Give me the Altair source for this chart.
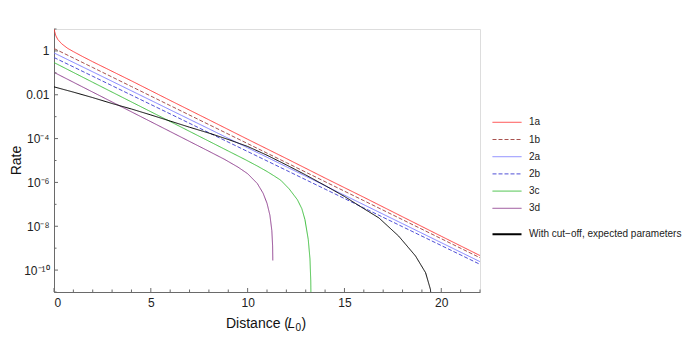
import math
import altair as alt
import pandas as pd

# ---------------- data ----------------
names = ["1a", "1b", "2a", "2b", "3c", "3d", "With cut\u2212off, expected parameters"]
colors = ["#ff3b3b", "#a8524f", "#7f7fff", "#4f4fd6", "#3fbf3f", "#8f3f8f", "#000000"]
dashes = [[1, 0], [4, 2], [1, 0], [4, 2], [1, 0], [1, 0], [1, 0]]
widths = [1, 1, 1, 1, 1, 1, 2]

x_1a = [0, 0.03, 0.1, 0.2, 0.4, 0.7, 1.0, 1.5, 2, 4, 6, 8, 10, 12, 14, 16, 18, 20, 22]
r_1a = [20, 7.9, 4.8, 3.3, 2.1, 1.32, 0.93, 0.54, 0.32, 0.043, 5.5e-3, 7.2e-4, 9.3e-5,
        1.23e-5, 1.58e-6, 2.1e-7, 2.7e-8, 3.5e-9, 4.6e-10]

x_1b = [0, 2, 4, 6, 8, 10, 12, 14, 16, 18, 20, 22]
r_1b = [1.29, 0.175, 0.0237, 3.2e-3, 4.35e-4, 5.9e-5, 8.0e-6, 1.08e-6, 1.47e-7, 1.99e-8,
        2.7e-9, 3.65e-10]

x_2a = [0, 2, 4, 6, 8, 10, 12, 14, 16, 18, 20, 22]
r_2a = [0.81, 0.111, 0.0151, 2.05e-3, 2.79e-4, 3.8e-5, 5.2e-6, 7.05e-7, 9.6e-8, 1.31e-8,
        1.78e-9, 2.42e-10]

x_2b = [0, 2, 4, 6, 8, 10, 12, 14, 16, 18, 20, 22]
r_2b = [0.50, 0.0695, 9.6e-3, 1.34e-3, 1.85e-4, 2.57e-5, 3.56e-6, 4.94e-7, 6.85e-8, 9.5e-9,
        1.32e-9, 1.83e-10]

x_3c = [0, 2, 4, 6, 8, 9, 9.9, 10.5, 11.0, 11.4, 11.71, 12.15, 12.57, 12.8, 12.96, 13.13,
        13.22, 13.26, 13.28]
r_3c = [0.295, 0.037, 4.7e-3, 6.0e-4, 7.6e-5, 2.7e-5, 1.07e-5, 5.6e-6, 3.16e-6, 1.9e-6,
        1.26e-6, 5.0e-7, 1.62e-7, 6.3e-8, 2.0e-8, 2.5e-9, 3.2e-10, 3.2e-11, 1e-12]

x_3d = [0, 2, 4, 6, 8, 8.79, 9.5, 10.0, 10.5, 10.8, 11.0, 11.15, 11.25, 11.29, 11.3]
r_3d = [0.105, 0.0132, 1.66e-3, 2.09e-4, 2.63e-5, 1.15e-5, 5.0e-6, 2.5e-6, 8.9e-7, 3.2e-7,
        1.12e-7, 3.2e-8, 6.3e-9, 1.26e-9, 2.75e-10]

x_bk = [0, 1, 2, 3, 4, 5, 6, 7, 8, 9, 10, 11, 12, 13, 14, 15, 15.75, 16.78, 17.8, 18.67,
        19.19, 19.44, 19.55]
r_bk = [0.0229, 0.0132, 7.4e-3, 3.98e-3, 2.24e-3, 1.2e-3, 6.3e-4, 3.3e-4, 1.78e-4, 9.1e-5,
        4.37e-5, 1.74e-5, 6.3e-6, 2.19e-6, 7.2e-7, 2.29e-7, 8.7e-8, 2.4e-8, 3.55e-9, 4.4e-10,
        7.6e-11, 1.32e-11, 1e-12]

x_major = [0, 5, 10, 15, 20]
x_minor = [1, 2, 3, 4, 6, 7, 8, 9, 11, 12, 13, 14, 16, 17, 18, 19, 21, 22]
y_major = [1, 1e-2, 1e-4, 1e-6, 1e-8, 1e-10]
y_major_labels = ["1", "0.01", "10\u207b\u2074", "10\u207b\u2076", "10\u207b\u2078", "10\u207b\u00b9\u2070"]
y_minor = [10, 0.1, 1e-3, 1e-5, 1e-7, 1e-9, 1e-11]

# ---------------- build tables ----------------
series_x = [x_1a, x_1b, x_2a, x_2b, x_3c, x_3d, x_bk]
series_r = [r_1a, r_1b, r_2a, r_2b, r_3c, r_3d, r_bk]
rows = []
for name, xs, rs in zip(names, series_x, series_r):
    for i, (a, b) in enumerate(zip(xs, rs)):
        rows.append({"series": name, "x": a, "rate": b, "i": i})
df = pd.DataFrame(rows)

W, H = 426, 263
FONT = "Liberation Sans"

xscale = alt.Scale(domain=[0, 22], nice=False, zero=False)
yscale = alt.Scale(type="log", domain=[1e-11, 10], nice=False)

expr = "''"
for v, lab in reversed(list(zip(y_major, y_major_labels))):
    e = round(math.log10(v))
    expr = f"(round(log(datum.value)/LN10) == {e}) ? '{lab}' : ({expr})"

xaxis = alt.Axis(values=x_major, format="d", ticks=False, grid=False, domainColor="#6a6a6a",
                 domainWidth=1, labelColor="#222222", labelFontSize=12, labelPadding=5,
                 labelFont=FONT, title=None)
yaxis = alt.Axis(values=y_major, labelExpr=expr, ticks=False, grid=False, domainColor="#6a6a6a",
                 domainWidth=1, labelColor="#222222", labelFontSize=12, labelPadding=5,
                 labelFont=FONT, title=None)

lines = alt.Chart(df).mark_line(clip=True).encode(
    x=alt.X("x:Q", scale=xscale, axis=xaxis),
    y=alt.Y("rate:Q", scale=yscale, axis=yaxis),
    color=alt.Color("series:N", scale=alt.Scale(domain=names, range=colors), legend=None),
    strokeDash=alt.StrokeDash("series:N", scale=alt.Scale(domain=names, range=dashes), legend=None),
    strokeWidth=alt.StrokeWidth("series:N", scale=alt.Scale(domain=names, range=widths), legend=None),
    detail="series:N",
    order="i:Q",
)

# inside ticks
tx_major = alt.Chart(pd.DataFrame({"x": x_major})).mark_rule(color="#6a6a6a", strokeWidth=1).encode(
    x=alt.X("x:Q", scale=xscale), y=alt.value(H), y2=alt.value(H - 4))
tx_minor = alt.Chart(pd.DataFrame({"x": x_minor})).mark_rule(color="#6a6a6a", strokeWidth=1).encode(
    x=alt.X("x:Q", scale=xscale), y=alt.value(H), y2=alt.value(H - 2.5))
ty_major = alt.Chart(pd.DataFrame({"rate": y_major})).mark_rule(color="#6a6a6a", strokeWidth=1).encode(
    y=alt.Y("rate:Q", scale=yscale), x=alt.value(0), x2=alt.value(4))
ty_minor = alt.Chart(pd.DataFrame({"rate": y_minor})).mark_rule(color="#6a6a6a", strokeWidth=1).encode(
    y=alt.Y("rate:Q", scale=yscale), x=alt.value(0), x2=alt.value(2.5))

# axis titles
ytitle = alt.Chart(pd.DataFrame({"t": ["Rate"]})).mark_text(
    font=FONT, fontSize=14, angle=270, align="center", baseline="middle", color="#111111"
).encode(text="t:N", x=alt.value(-37), y=alt.value(H / 2))

xt_parts = [
    ("Distance (", 172, 0, 14, "normal"),
    ("L", 233.5, 0, 14, "italic"),
    ("0", 241.5, 3, 10, "normal"),
    (")", 247.5, 0, 14, "normal"),
]
xtitle_layers = []
for txt, px, dy, fs, style in xt_parts:
    xtitle_layers.append(
        alt.Chart(pd.DataFrame({"t": [txt]})).mark_text(
            font=FONT, fontSize=fs, fontStyle=style, align="left", baseline="alphabetic",
            color="#111111", dy=dy
        ).encode(text="t:N", x=alt.value(px), y=alt.value(H + 36))
    )

# legend
leg_y = [93.3, 110.5, 127.7, 144.9, 162.1, 179.3, 205.3]
leg_layers = []
for name, col, dash, w, yy in zip(names, colors, dashes, widths, leg_y):
    d = pd.DataFrame({"t": [name]})
    leg_layers.append(
        alt.Chart(d).mark_rule(color=col, strokeDash=dash, strokeWidth=w).encode(
            x=alt.value(438.5), x2=alt.value(467.5), y=alt.value(yy))
    )
    leg_layers.append(
        alt.Chart(d).mark_text(font=FONT, fontSize=10, align="left", baseline="middle",
                               color="#222222").encode(
            text="t:N", x=alt.value(475), y=alt.value(yy))
    )

chart = alt.layer(
    lines, tx_major, tx_minor, ty_major, ty_minor, ytitle, *xtitle_layers, *leg_layers
).properties(
    width=W, height=H,
    autosize=alt.AutoSizeParams(type="none"),
    padding={"left": 46, "top": 21, "right": 204, "bottom": 42},
).configure_view(stroke=None).configure(font=FONT)

chart.save("out.html", embed_options={"renderer": "svg", "actions": False})
